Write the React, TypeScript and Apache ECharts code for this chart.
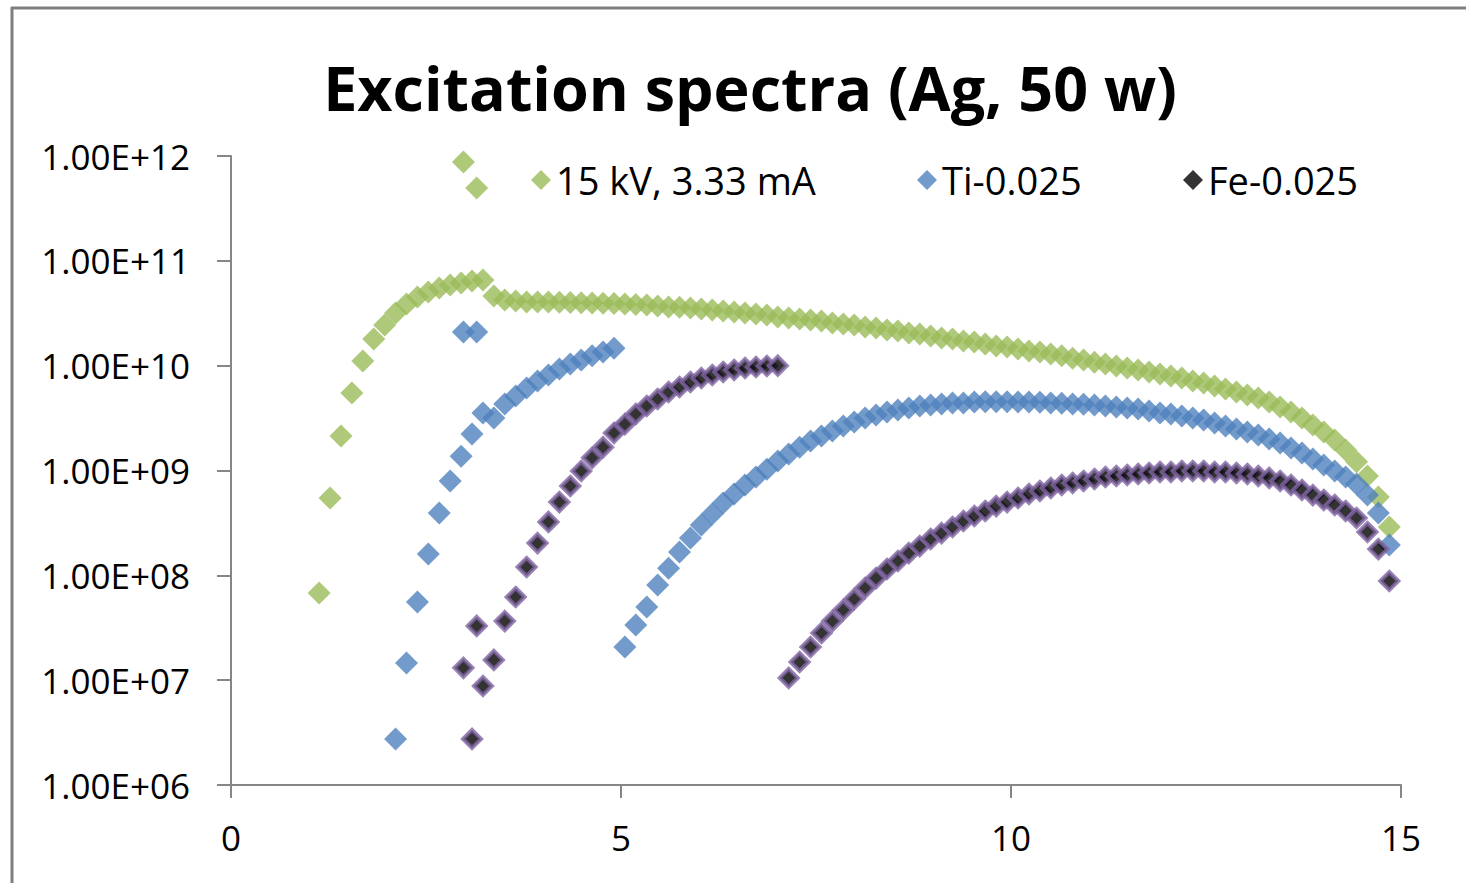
import React, { useEffect, useRef } from "react";
import * as echarts from "echarts";

const FONT = "'Open Sans', 'Noto Sans', sans-serif";

const titleText = "Excitation spectra (Ag, 50 w)";
const seriesNames = ["15 kV, 3.33 mA", "Ti-0.025", "Fe-0.025"];
const xTicks = [0, 5, 10, 15];

// photon energy grid (keV)
const energies = [
  1.13, 1.27, 1.41, 1.55, 1.69, 1.83, 1.97, 2.11, 2.25, 2.39,
  2.53, 2.67, 2.81, 2.95, 3.09, 3.23, 3.37, 3.51, 3.65, 3.79,
  3.93, 4.07, 4.21, 4.35, 4.49, 4.63, 4.77, 4.91, 5.05, 5.19,
  5.33, 5.47, 5.61, 5.75, 5.89, 6.03, 6.17, 6.31, 6.45, 6.59,
  6.73, 6.87, 7.01, 7.15, 7.29, 7.43, 7.57, 7.71, 7.85, 7.99,
  8.13, 8.27, 8.41, 8.55, 8.69, 8.83, 8.97, 9.11, 9.25, 9.39,
  9.53, 9.67, 9.81, 9.95, 10.09, 10.23, 10.37, 10.51, 10.65, 10.79,
  10.93, 11.07, 11.21, 11.35, 11.49, 11.63, 11.77, 11.91, 12.05, 12.19,
  12.33, 12.47, 12.61, 12.75, 12.89, 13.03, 13.17, 13.31, 13.45, 13.59,
  13.73, 13.87, 14.01, 14.15, 14.29, 14.43, 14.57, 14.71, 14.85,
];

// Ag L lines (keV)
const lineEnergies = [2.98, 3.15];

const greenValues = [
  6.78e7, 5.47e8, 2.13e9, 5.48e9, 1.11e10, 1.8e10, 2.44e10, 3.18e10, 3.87e10, 4.52e10,
  5.04e10, 5.51e10, 5.88e10, 6.15e10, 6.42e10, 6.56e10, 4.62e10, 4.23e10, 4.14e10, 4.05e10,
  4.05e10, 4.05e10, 4.02e10, 4.0e10, 3.98e10, 3.96e10, 3.94e10, 3.92e10, 3.87e10, 3.84e10,
  3.79e10, 3.71e10, 3.63e10, 3.6e10, 3.55e10, 3.47e10, 3.4e10, 3.32e10, 3.25e10, 3.18e10,
  3.11e10, 3.04e10, 2.91e10, 2.85e10, 2.79e10, 2.73e10, 2.67e10, 2.55e10, 2.5e10, 2.44e10,
  2.34e10, 2.29e10, 2.19e10, 2.14e10, 2.05e10, 2.01e10, 1.92e10, 1.84e10, 1.8e10, 1.72e10,
  1.68e10, 1.61e10, 1.54e10, 1.51e10, 1.44e10, 1.38e10, 1.35e10, 1.29e10, 1.24e10, 1.18e10,
  1.13e10, 1.08e10, 1.04e10, 9.93e9, 9.5e9, 9.09e9, 8.7e9, 8.32e9, 7.96e9, 7.62e9,
  7.14e9, 6.83e9, 6.4e9, 5.99e9, 5.61e9, 5.25e9, 4.92e9, 4.5e9, 4.04e9, 3.61e9,
  3.17e9, 2.72e9, 2.33e9, 1.95e9, 1.57e9, 1.21e9, 8.86e8, 5.58e8, 2.89e8,
];
const greenLines = [8.77e11, 4.95e11];

const blueValues = [
  null, null, null, null, null, null, null, 2.75e6, 1.46e7, 5.56e7,
  1.6e8, 3.93e8, 7.94e8, 1.37e9, 2.23e9, 3.53e9, 3.17e9, 4.31e9, 5.14e9, 6.12e9,
  7.14e9, 8.15e9, 9.29e9, 1.04e10, 1.13e10, 1.24e10, 1.35e10, 1.47e10, 2.07e7, 3.36e7,
  4.99e7, 8.09e7, 1.17e8, 1.67e8, 2.27e8, 3.02e8, 3.85e8, 4.9e8, 5.97e8, 7.27e8,
  8.67e8, 1.03e9, 1.23e9, 1.44e9, 1.67e9, 1.91e9, 2.13e9, 2.38e9, 2.66e9, 2.9e9,
  3.17e9, 3.38e9, 3.61e9, 3.78e9, 3.95e9, 4.12e9, 4.22e9, 4.31e9, 4.41e9, 4.41e9,
  4.5e9, 4.52e9, 4.53e9, 4.52e9, 4.5e9, 4.49e9, 4.47e9, 4.41e9, 4.39e9, 4.31e9,
  4.29e9, 4.22e9, 4.12e9, 4.04e9, 3.95e9, 3.86e9, 3.69e9, 3.53e9, 3.45e9, 3.31e9,
  3.17e9, 3.03e9, 2.84e9, 2.66e9, 2.49e9, 2.33e9, 2.18e9, 2.0e9, 1.83e9, 1.64e9,
  1.47e9, 1.29e9, 1.13e9, 9.89e8, 8.67e8, 7.43e8, 5.83e8, 3.93e8, 1.95e8,
];
const blueLines = [2.09e10, 2.09e10];

const feValues = [
  null, null, null, null, null, null, null, null, null, null,
  null, null, null, null, 2.75e6, 8.8e6, 1.56e7, 3.66e7, 6.21e7, 1.2e8,
  2.03e8, 3.23e8, 5.0e8, 7.11e8, 9.89e8, 1.32e9, 1.67e9, 2.28e9, 2.77e9, 3.46e9,
  4.12e9, 4.81e9, 5.61e9, 6.26e9, 6.99e9, 7.62e9, 8.15e9, 8.7e9, 9.09e9, 9.5e9,
  9.72e9, 9.93e9, 1.0e10, 1.05e7, 1.49e7, 2.07e7, 2.82e7, 3.66e7, 4.67e7, 5.94e7,
  7.57e7, 9.42e7, 1.15e8, 1.37e8, 1.63e8, 1.9e8, 2.22e8, 2.53e8, 2.89e8, 3.3e8,
  3.68e8, 4.11e8, 4.58e8, 5.0e8, 5.47e8, 5.97e8, 6.37e8, 6.81e8, 7.27e8, 7.6e8,
  7.94e8, 8.3e8, 8.67e8, 8.86e8, 9.06e8, 9.26e8, 9.47e8, 9.68e8, 9.68e8, 9.89e8,
  9.89e8, 9.89e8, 9.68e8, 9.68e8, 9.47e8, 9.26e8, 8.86e8, 8.49e8, 7.94e8, 7.27e8,
  6.52e8, 5.83e8, 5.23e8, 4.69e8, 4.11e8, 3.52e8, 2.59e8, 1.78e8, 8.83e7,
];
const feLines = [1.31e7, 3.29e7];

function buildData(values: (number | null)[], lines: number[]) {
  const pts: number[][] = [];
  energies.forEach((e, i) => {
    const v = values[i];
    if (v != null) pts.push([e, v]);
  });
  lineEnergies.forEach((e, i) => pts.push([e, lines[i]]));
  return pts;
}

const GREEN = "#9BBB59";
const BLUE = "#4F81BD";
const PURPLE = "#8064A2";
const AXIS = "#868686";

export default function App() {
  const ref = useRef<HTMLDivElement>(null);
  useEffect(() => {
    document.body.style.margin = "0";
    if (!ref.current) return;
    const chart = echarts.init(ref.current, undefined, { renderer: "svg" });
    const labelStyle = { fontFamily: FONT, fontSize: 35, color: "#000" };
    const legendBase = {
      top: 155,
      icon: "diamond",
      itemWidth: 20,
      itemHeight: 20,
      textStyle: { fontFamily: FONT, fontSize: 38, color: "#000", lineHeight: 40 },
      selectedMode: false,
    };
    chart.setOption({
      animation: false,
      backgroundColor: "#ffffff",
      title: {
        text: titleText,
        left: 745,
        top: 52,
        textAlign: "center",
        textStyle: { fontFamily: FONT, fontWeight: "bold", fontSize: 61, color: "#000" },
      },
      legend: [
        { ...legendBase, left: 526, data: [seriesNames[0]] },
        { ...legendBase, left: 912, data: [seriesNames[1]] },
        { ...legendBase, left: 1178, data: [seriesNames[2]], itemStyle: { borderWidth: 0, color: "#000" } },
      ],
      grid: { left: 231, right: 65, top: 156, bottom: 98, containLabel: false },
      xAxis: {
        type: "value",
        min: xTicks[0],
        max: xTicks[xTicks.length - 1],
        interval: xTicks[1] - xTicks[0],
        axisLine: { show: true, onZero: false, lineStyle: { color: AXIS, width: 2 } },
        axisTick: { show: true, length: 13, lineStyle: { color: AXIS, width: 2 } },
        axisLabel: { ...labelStyle, margin: 35 },
        splitLine: { show: false },
      },
      yAxis: {
        type: "log",
        logBase: 10,
        min: 1e6,
        max: 1e12,
        splitNumber: 6,
        axisLine: { show: true, onZero: false, lineStyle: { color: AXIS, width: 2 } },
        axisTick: { show: true, length: 14, lineStyle: { color: AXIS, width: 2 } },
        axisLabel: {
          ...labelStyle,
          margin: 41,
          formatter: (v: number) => {
            const exp = Math.round(Math.log10(v));
            return "1.00E+" + String(exp).padStart(2, "0");
          },
        },
        splitLine: { show: false },
      },
      series: [
        {
          name: seriesNames[0],
          type: "scatter",
          symbol: "diamond",
          symbolSize: 23,
          itemStyle: { color: GREEN },
          data: buildData(greenValues, greenLines),
        },
        {
          name: seriesNames[1],
          type: "scatter",
          symbol: "diamond",
          symbolSize: 23,
          itemStyle: { color: BLUE },
          data: buildData(blueValues, blueLines),
        },
        {
          name: seriesNames[2],
          type: "scatter",
          symbol: "diamond",
          symbolSize: 18,
          itemStyle: { color: "#000", borderColor: PURPLE, borderWidth: 4 },
          data: buildData(feValues, feLines),
        },
      ],
      graphic: [
        { type: "line", shape: { x1: 12, y1: 7, x2: 12, y2: 883 }, style: { stroke: "#7f7f7f", lineWidth: 3 } },
        { type: "line", shape: { x1: 11, y1: 8, x2: 1466, y2: 8 }, style: { stroke: "#7f7f7f", lineWidth: 3 } },
      ],
    });
    return () => chart.dispose();
  }, []);
  return <div ref={ref} style={{ width: 1466, height: 883 }} />;
}
